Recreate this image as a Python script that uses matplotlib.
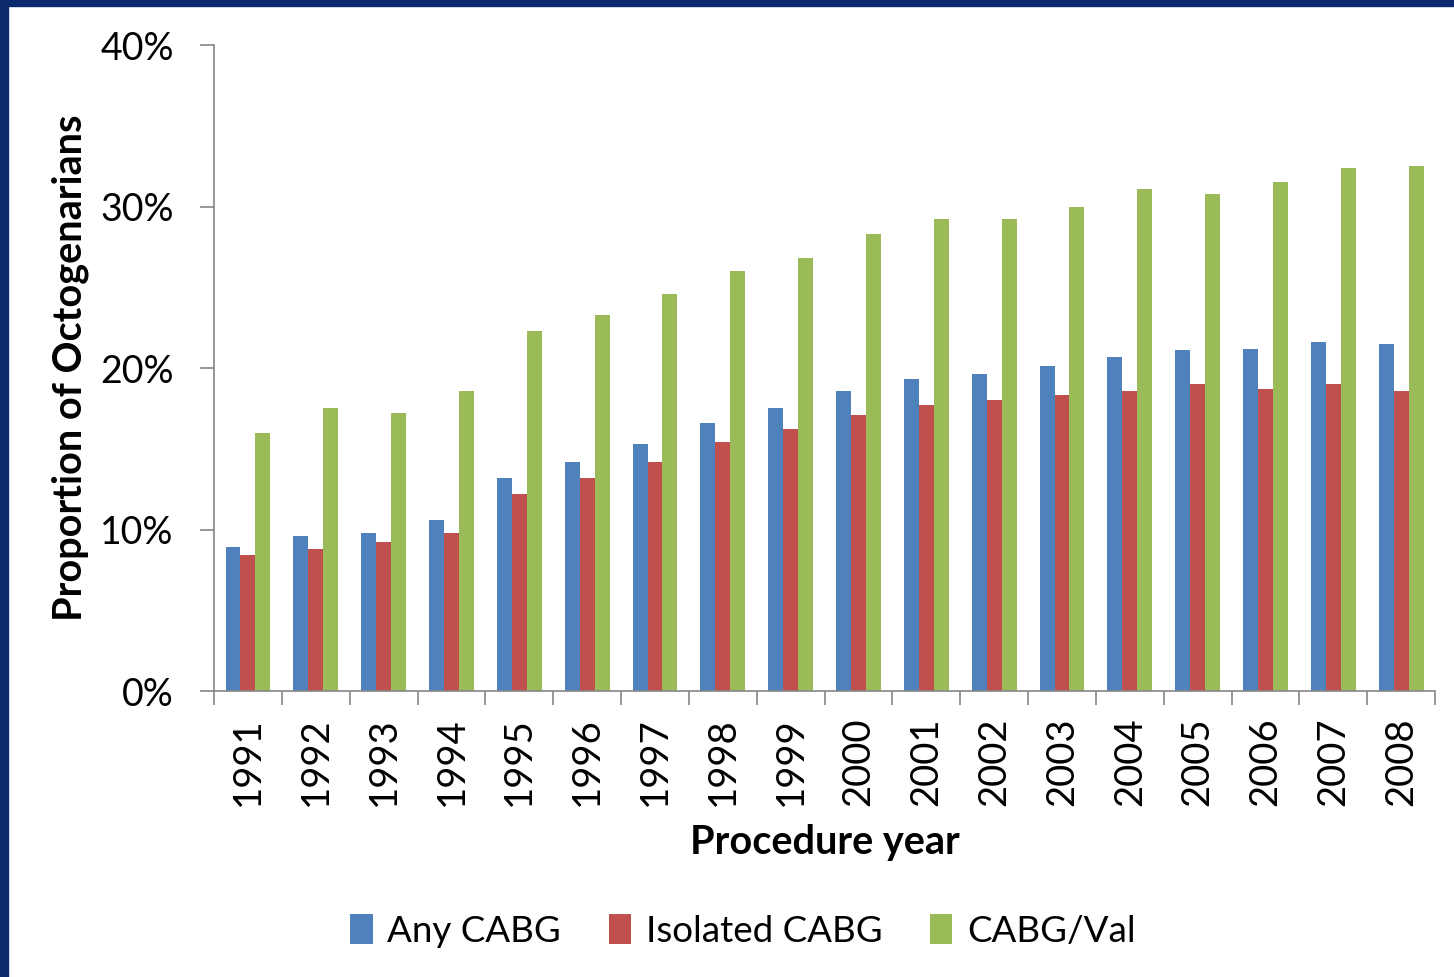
import numpy as np
import matplotlib
matplotlib.use("Agg")
import matplotlib.pyplot as plt
from matplotlib.patches import Rectangle
from matplotlib.ticker import FuncFormatter

plt.rcParams['font.family'] = ['Lato', 'DejaVu Sans']

years = ['1991', '1992', '1993', '1994', '1995', '1996', '1997', '1998', '1999',
         '2000', '2001', '2002', '2003', '2004', '2005', '2006', '2007', '2008']
any_cabg = [8.9, 9.6, 9.8, 10.6, 13.2, 14.2, 15.3, 16.6, 17.5,
            18.6, 19.3, 19.6, 20.1, 20.7, 21.1, 21.2, 21.6, 21.5]
isolated_cabg = [8.4, 8.8, 9.2, 9.8, 12.2, 13.2, 14.2, 15.4, 16.2,
                 17.1, 17.7, 18.0, 18.3, 18.6, 19.0, 18.7, 19.0, 18.6]
cabg_val = [16.0, 17.5, 17.2, 18.6, 22.3, 23.3, 24.6, 26.0, 26.8,
            28.3, 29.2, 29.2, 30.0, 31.1, 30.8, 31.5, 32.4, 32.5]
series_names = ['Any CABG', 'Isolated CABG', 'CABG/Val']
colors = ['#4F81BD', '#C0504D', '#9BBB59']

fig = plt.figure(figsize=(14.54, 9.77), dpi=100)
ax = fig.add_axes([0.1472, 0.2927, 0.8398, 0.6612])

x = np.arange(len(years))
w = 0.22
for i, (vals, name, c) in enumerate(zip([any_cabg, isolated_cabg, cabg_val], series_names, colors)):
    ax.bar(x + (i - 1) * w, vals, width=w, color=c, label=name, edgecolor='none')

ax.set_xlim(-0.5, len(years) - 0.5)
ax.set_ylim(0, 40)
ax.set_yticks([0, 10, 20, 30, 40])
ax.yaxis.set_major_formatter(FuncFormatter(lambda v, p: f'{v:.0f}%'))
ax.tick_params(axis='y', length=10, width=1.2, color='#868686', labelsize=27, pad=19)

# category boundaries as major ticks, labels on minor ticks
ax.set_xticks(np.arange(-0.5, len(years), 1.0))
ax.set_xticklabels([])
ax.set_xticks(x, minor=True)
ax.set_xticklabels(years, minor=True, rotation=90, fontsize=27.5)
ax.tick_params(axis='x', which='major', length=10, width=1.2, color='#868686')
ax.tick_params(axis='x', which='minor', length=0, pad=19)

for s in ['top', 'right']:
    ax.spines[s].set_visible(False)
for s in ['left', 'bottom']:
    ax.spines[s].set_color('#868686')
    ax.spines[s].set_linewidth(1.2)

fig.text(0.048, 0.624, 'Proportion of Octogenarians', rotation=90, fontsize=28.5,
         fontweight='bold', ha='center', va='center')
fig.text(0.567, 0.138, 'Procedure year', fontsize=28.5, fontweight='bold',
         ha='center', va='center')

fig.legend(loc='center', bbox_to_anchor=(0.511, 0.047), ncol=3, frameon=False,
           fontsize=26.5, handlelength=0.6, handleheight=0.85, handletextpad=0.4,
           columnspacing=1.3)

# dark blue slide frame on top and left edges
fig.patches.append(Rectangle((0, 1 - 6 / 977), 1, 6 / 977, transform=fig.transFigure,
                             color='#0b2a6e', zorder=10))
fig.patches.append(Rectangle((0, 0), 8 / 1454, 1, transform=fig.transFigure,
                             color='#0b2a6e', zorder=10))

fig.savefig('out.png', dpi=100)
